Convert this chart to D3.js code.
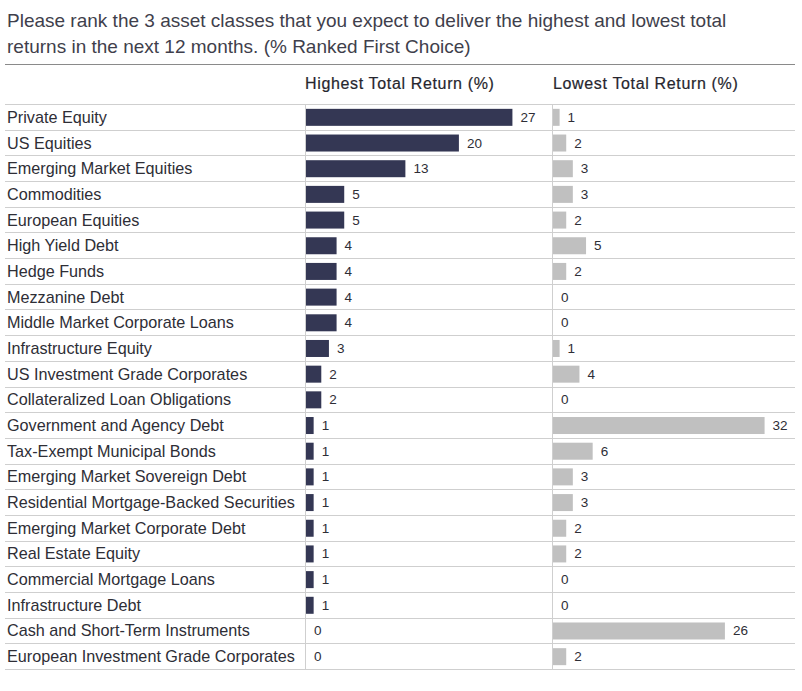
<!DOCTYPE html>
<html>
<head>
<meta charset="utf-8">
<script src="https://cdn.jsdelivr.net/npm/d3@7"></script>
<style>
  body { margin: 0; background: #fff; }
  text { font-family: "Liberation Sans", Arial, sans-serif; }
</style>
</head>
<body>
<div id="chart"></div>
<script>
const categories = [
  "Private Equity", "US Equities", "Emerging Market Equities", "Commodities",
  "European Equities", "High Yield Debt", "Hedge Funds", "Mezzanine Debt",
  "Middle Market Corporate Loans", "Infrastructure Equity",
  "US Investment Grade Corporates", "Collateralized Loan Obligations",
  "Government and Agency Debt", "Tax-Exempt Municipal Bonds",
  "Emerging Market Sovereign Debt", "Residential Mortgage-Backed Securities",
  "Emerging Market Corporate Debt", "Real Estate Equity",
  "Commercial Mortgage Loans", "Infrastructure Debt",
  "Cash and Short-Term Instruments", "European Investment Grade Corporates"
];
const highest = [27, 20, 13, 5, 5, 4, 4, 4, 4, 3, 2, 2, 1, 1, 1, 1, 1, 1, 1, 1, 0, 0];
const lowest  = [1, 2, 3, 3, 2, 5, 2, 0, 0, 1, 4, 0, 32, 6, 3, 3, 2, 2, 0, 0, 26, 2];
const titleLines = [
  "Please rank the 3 asset classes that you expect to deliver the highest and lowest total",
  "returns in the next 12 months. (% Ranked First Choice)"
];
const headers = ["Highest Total Return (%)", "Lowest Total Return (%)"];

const W = 802, H = 691;
const tableLeft = 5, tableRight = 795, tableTop = 104, tableBottom = 669;
const col1 = 305, col2 = 552;

const svg = d3.select('#chart').append('svg').attr('width', W).attr('height', H);

svg.selectAll('text.title').data(titleLines).enter().append('text')
  .attr('class', 'title')
  .attr('x', 7).attr('y', (d, i) => 27 + i * 26)
  .attr('font-size', 19).attr('fill', '#3f3f4c')
  .text(d => d);

svg.append('line')
  .attr('x1', tableLeft).attr('x2', tableRight).attr('y1', 64.5).attr('y2', 64.5)
  .attr('stroke', '#8a8a8a').attr('stroke-width', 1);

svg.selectAll('text.header').data(headers).enter().append('text')
  .attr('class', 'header')
  .attr('x', (d, i) => i === 0 ? col1 : col2 + 1).attr('y', 89)
  .attr('font-size', 16).attr('letter-spacing', 0.65).attr('fill', '#26262e')
  .attr('stroke', '#26262e').attr('stroke-width', 0.2)
  .text(d => d);

const y = d3.scaleBand().domain(categories).range([tableTop, tableBottom]);

const x1 = d3.scaleLinear().domain([0, 31]).range([col1 + 1, col1 + 1 + 237]);
const x2 = d3.scaleLinear().domain([0, 36.6]).range([col2 + 1, col2 + 1 + 242]);

// row lines
svg.selectAll('line.row').data(categories.concat(['_end'])).enter().append('line')
  .attr('class', 'row')
  .attr('x1', tableLeft).attr('x2', tableRight)
  .attr('y1', (d, i) => Math.round(tableTop + i * y.bandwidth()) + 0.5)
  .attr('y2', (d, i) => Math.round(tableTop + i * y.bandwidth()) + 0.5)
  .attr('stroke', '#cfcfcf');

[col1, col2].forEach(c => {
  svg.append('line')
    .attr('x1', c + 0.5).attr('x2', c + 0.5).attr('y1', tableTop).attr('y2', tableBottom)
    .attr('stroke', '#cfcfcf');
});

svg.selectAll('text.cat').data(categories).enter().append('text')
  .attr('class', 'cat')
  .attr('x', 7).attr('y', d => y(d) + y.bandwidth() / 2 + 6)
  .attr('font-size', 16.2).attr('fill', '#2e2e36')
  .text(d => d);

const barH = 17;
function drawColumn(values, x, color) {
  const g = svg.append('g');
  g.selectAll('rect').data(values).enter().append('rect')
    .attr('x', x(0))
    .attr('y', (d, i) => y(categories[i]) + (y.bandwidth() - barH) / 2 + 0.5)
    .attr('width', d => x(d) - x(0))
    .attr('height', barH)
    .attr('fill', color);
  g.selectAll('text').data(values).enter().append('text')
    .attr('x', d => x(d) + 8)
    .attr('y', (d, i) => y(categories[i]) + y.bandwidth() / 2 + 5)
    .attr('font-size', 13.5).attr('fill', '#2e2e36')
    .text(d => d);
}
drawColumn(highest, x1, '#343754');
drawColumn(lowest, x2, '#c0c0c0');
</script>
</body>
</html>
